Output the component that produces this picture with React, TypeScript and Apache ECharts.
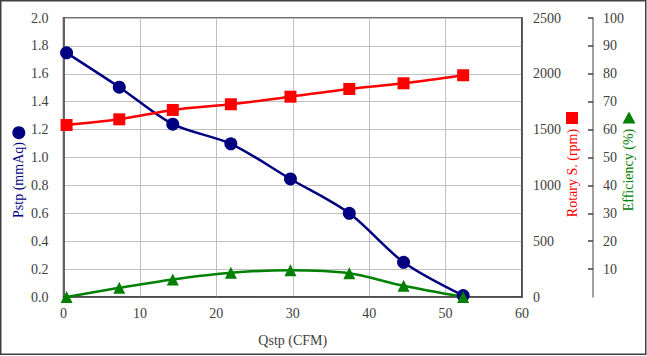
import React, { useEffect, useRef } from "react";
import * as echarts from "echarts";

const qstp = [0.4, 7.3, 14.3, 21.9, 29.7, 37.4, 44.5, 52.3];
const pstp = [1.75, 1.504, 1.239, 1.098, 0.846, 0.60, 0.249, 0.01];
const rotary = [1541, 1592, 1676, 1727, 1795, 1864, 1915, 1987];
const efficiency = [0, 3.3, 6.3, 8.7, 9.6, 8.5, 4.0, 0];

const FONT = "Liberation Serif";
const LABEL_COLOR = "#404040";

export default function App() {
  const ref = useRef<HTMLDivElement>(null);
  useEffect(() => {
    document.body.style.margin = "0";
    const chart = echarts.init(ref.current!, null, { renderer: "svg" });
    const pair = (ys: number[]) => qstp.map((x, i) => [x, ys[i]]);
    const lbl = { fontFamily: FONT, fontSize: 14, color: LABEL_COLOR };
    chart.setOption({
      animation: false,
      backgroundColor: "#ffffff",
      textStyle: { fontFamily: FONT },
      grid: {
        left: 63.5,
        right: 125,
        top: 18,
        bottom: 59,
        show: true,
        borderColor: "#404040",
        borderWidth: 1.5,
      },
      xAxis: {
        type: "value",
        min: 0,
        max: 60,
        interval: 10,
        name: "Qstp (CFM)",
        nameLocation: "middle",
        nameGap: 36,
        nameTextStyle: { ...lbl },
        axisLine: { show: true, lineStyle: { color: "#404040", width: 1.5 } },
        axisTick: { show: false },
        axisLabel: { ...lbl, margin: 9 },
        splitLine: { show: true, lineStyle: { color: "#c0c0c0", width: 1 } },
      },
      yAxis: [
        {
          type: "value",
          min: 0,
          max: 2,
          interval: 0.2,
          position: "left",
          axisLine: { show: true, lineStyle: { color: "#404040", width: 1.5 } },
          axisTick: { show: false },
          axisLabel: { ...lbl, margin: 15, formatter: (v: number) => v.toFixed(1) },
          splitLine: { show: true, lineStyle: { color: "#c0c0c0", width: 1 } },
        },
        {
          type: "value",
          min: 0,
          max: 2500,
          interval: 500,
          position: "right",
          axisLine: { show: true, lineStyle: { color: "#404040", width: 1.5 } },
          axisTick: { show: false },
          axisLabel: { ...lbl, margin: 11, formatter: (v: number) => String(v) },
          splitLine: { show: false },
        },
        {
          type: "value",
          min: 0,
          max: 100,
          interval: 10,
          position: "right",
          offset: 71,
          axisLine: { show: true, lineStyle: { color: "#808080", width: 1.5 } },
          axisTick: { show: true, inside: true, length: 5, lineStyle: { color: "#404040", width: 1.5 } },
          axisLabel: { ...lbl, margin: 10, showMinLabel: false, formatter: (v: number) => String(v) },
          splitLine: { show: false },
        },
      ],
      series: [
        {
          name: "Pstp",
          type: "line",
          yAxisIndex: 0,
          data: pair(pstp),
          smooth: 0.3,
          symbol: "circle",
          symbolSize: 13,
          itemStyle: { color: "#000080" },
          lineStyle: { color: "#000080", width: 2.5 },
        },
        {
          name: "Rotary",
          type: "line",
          yAxisIndex: 1,
          data: pair(rotary),
          smooth: 0.3,
          symbol: "rect",
          symbolSize: 12,
          itemStyle: { color: "#ff0000" },
          lineStyle: { color: "#ff0000", width: 2.5 },
        },
        {
          name: "Efficiency",
          type: "line",
          yAxisIndex: 2,
          data: pair(efficiency),
          smooth: 0.3,
          symbol: "triangle",
          symbolSize: 12,
          itemStyle: { color: "#008000" },
          lineStyle: { color: "#008000", width: 2.5 },
        },
      ],
      graphic: [
        {
          type: "rect",
          shape: { x: 0.75, y: 0.75, width: 645, height: 353.5 },
          style: { fill: "none", stroke: "#404040", lineWidth: 1.5 },
          silent: true,
        },
        {
          type: "circle",
          shape: { cx: 18.8, cy: 132.7, r: 6.5 },
          style: { fill: "#000080" },
        },
        {
          type: "text",
          x: 18,
          y: 180,
          rotation: Math.PI / 2,
          style: {
            text: "Pstp (mmAq)",
            fill: "#000080",
            fontFamily: FONT,
            fontSize: 14,
            align: "center",
            verticalAlign: "middle",
          },
        },
        {
          type: "rect",
          shape: { x: 566, y: 112, width: 12, height: 12 },
          style: { fill: "#ff0000" },
        },
        {
          type: "text",
          x: 572,
          y: 173,
          rotation: Math.PI / 2,
          style: {
            text: "Rotary S. (rpm)",
            fill: "#ff0000",
            fontFamily: FONT,
            fontSize: 14,
            align: "center",
            verticalAlign: "middle",
          },
        },
        {
          type: "polygon",
          shape: { points: [[629, 111.5], [635.5, 123.5], [622.5, 123.5]] },
          style: { fill: "#008000" },
        },
        {
          type: "text",
          x: 628,
          y: 170,
          rotation: Math.PI / 2,
          style: {
            text: "Efficiency (%)",
            fill: "#008000",
            fontFamily: FONT,
            fontSize: 14,
            align: "center",
            verticalAlign: "middle",
          },
        },
      ],
    });
    return () => chart.dispose();
  }, []);
  return (
    <div
      ref={ref}
      style={{ position: "absolute", left: 0, top: 0, width: 647, height: 356 }}
    />
  );
}
